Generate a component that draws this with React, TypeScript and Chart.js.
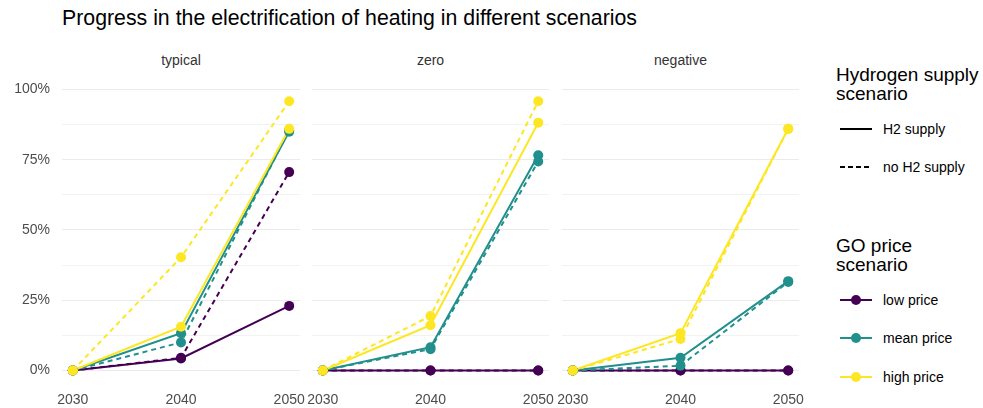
import React, { useEffect, useRef } from "react";
import { Chart, registerables } from "chart.js";

Chart.register(...registerables);

// ---------- data ----------
const years = [2030, 2040, 2050];
const facets = ["typical", "zero", "negative"];
const priceLevels = ["low price", "mean price", "high price"];
const priceColors = ["#440154", "#21908C", "#FDE725"];
const supplyLevels = ["H2 supply", "no H2 supply"];
const yTicks = [0, 12.5, 25, 37.5, 50, 62.5, 75, 87.5, 100];
const yLabelTicks = [0, 25, 50, 75, 100];

// typical
const typicalLowH2 = [0, 4.3, 23.0];
const typicalLowNoH2 = [0, 4.5, 70.6];
const typicalMeanH2 = [0, 13.3, 85.0];
const typicalMeanNoH2 = [0, 10.0, 85.5];
const typicalHighH2 = [0, 15.6, 86.0];
const typicalHighNoH2 = [0, 40.3, 95.8];
// zero
const zeroLowH2 = [0, 0, 0];
const zeroLowNoH2 = [0, 0, 0];
const zeroMeanH2 = [0, 8.3, 76.6];
const zeroMeanNoH2 = [0, 7.6, 74.4];
const zeroHighH2 = [0, 16.1, 88.2];
const zeroHighNoH2 = [0, 19.4, 95.8];
// negative
const negativeLowH2 = [0, 0, 0];
const negativeLowNoH2 = [0, 0, 0];
const negativeMeanH2 = [0, 4.5, 31.8];
const negativeMeanNoH2 = [0, 1.7, 31.5];
const negativeHighH2 = [0, 13.3, 86.0];
const negativeHighNoH2 = [0, 11.2, 86.0];

// [price][supply]
const facetSeries: number[][][] = [
  [
    [typicalLowH2, typicalLowNoH2],
    [typicalMeanH2, typicalMeanNoH2],
    [typicalHighH2, typicalHighNoH2],
  ],
  [
    [zeroLowH2, zeroLowNoH2],
    [zeroMeanH2, zeroMeanNoH2],
    [zeroHighH2, zeroHighNoH2],
  ],
  [
    [negativeLowH2, negativeLowNoH2],
    [negativeMeanH2, negativeMeanNoH2],
    [negativeHighH2, negativeHighNoH2],
  ],
];

const FONT = "'Liberation Sans', Arial, sans-serif";
const AXIS_COLOR = "#4D4D4D";
const DASH = [5, 4];

// ---------- layout ----------
const CANVAS_TOP = 70;
const CANVAS_H = 338;
const PLOT_TOP_PAD = 17.25;
const X_AXIS_H = 24;
const panelLeft = [62, 312, 562];
const panelRight = [300, 549, 799];
const SIDE_PAD = 16;

function Panel({ index }: { index: number }) {
  const ref = useRef<HTMLCanvasElement | null>(null);
  const showY = index === 0;
  const yWidth = showY ? panelLeft[0] : 0;
  const canvasLeft = showY ? 0 : panelLeft[index] - SIDE_PAD;
  const leftPad = showY ? 0 : SIDE_PAD;
  const canvasW = panelRight[index] - canvasLeft + SIDE_PAD;

  useEffect(() => {
    if (!ref.current) return;
    const series = facetSeries[index];
    const datasets: any[] = [];
    priceLevels.forEach((_, p) => {
      supplyLevels.forEach((__, s) => {
        const idx = p * 2 + s;
        const data = series[p][s].map((v, i) => ({ x: years[i], y: v }));
        datasets.push({
          label: priceLevels[p] + " / " + supplyLevels[s] + " line",
          data,
          borderColor: priceColors[p],
          backgroundColor: priceColors[p],
          borderWidth: 2,
          borderDash: s === 1 ? DASH : [],
          pointRadius: 0,
          showLine: true,
          fill: false,
          order: 50 - idx,
        });
      });
    });
    priceLevels.forEach((_, p) => {
      supplyLevels.forEach((__, s) => {
        const idx = p * 2 + s;
        const data = series[p][s].map((v, i) => ({ x: years[i], y: v }));
        datasets.push({
          label: priceLevels[p] + " / " + supplyLevels[s] + " points",
          data,
          borderColor: priceColors[p],
          backgroundColor: priceColors[p],
          borderWidth: 0,
          pointRadius: 5,
          pointBorderWidth: 0,
          showLine: false,
          order: 20 - idx,
        });
      });
    });

    const chart = new Chart(ref.current, {
      type: "scatter",
      data: { datasets },
      options: {
        responsive: false,
        animation: false,
        events: [],
        layout: {
          padding: { left: leftPad, right: SIDE_PAD, top: PLOT_TOP_PAD, bottom: 0 },
        },
        plugins: {
          legend: { display: false },
          tooltip: { enabled: false },
          title: { display: false },
        },
        scales: {
          x: {
            type: "linear",
            min: 2029,
            max: 2051,
            grid: { display: false, drawTicks: false },
            border: { display: false },
            afterBuildTicks: (scale: any) => {
              scale.ticks = years.map((v) => ({ value: v }));
            },
            afterFit: (scale: any) => {
              scale.height = X_AXIS_H;
            },
            ticks: {
              padding: 8,
              color: AXIS_COLOR,
              font: { family: FONT, size: 14 },
              maxRotation: 0,
              autoSkip: false,
              callback: (v: any) => String(v),
            },
          },
          y: {
            type: "linear",
            min: -4.8,
            max: 100.8,
            border: { display: false },
            grid: {
              drawTicks: false,
              color: (ctx: any) =>
                ctx.tick && yLabelTicks.includes(ctx.tick.value) ? "#EBEBEB" : "#F0F0F0",
              lineWidth: (ctx: any) =>
                ctx.tick && yLabelTicks.includes(ctx.tick.value) ? 1.1 : 0.9,
            },
            afterBuildTicks: (scale: any) => {
              scale.ticks = yTicks.map((v) => ({ value: v }));
            },
            afterFit: (scale: any) => {
              scale.width = yWidth;
              scale.paddingTop = 0;
              scale.paddingBottom = 0;
            },
            ticks: {
              display: showY,
              padding: 12,
              color: AXIS_COLOR,
              font: { family: FONT, size: 14 },
              autoSkip: false,
              callback: (v: any) => (yLabelTicks.includes(v) ? v + "%" : ""),
            },
          },
        },
      },
    } as any);
    return () => chart.destroy();
  }, [index]);

  return (
    <canvas
      ref={ref}
      width={canvasW}
      height={CANVAS_H}
      style={{
        position: "absolute",
        left: canvasLeft,
        top: CANVAS_TOP,
        width: canvasW,
        height: CANVAS_H,
      }}
    />
  );
}

const txt = (extra: React.CSSProperties): React.CSSProperties => ({
  position: "absolute",
  fontFamily: FONT,
  whiteSpace: "nowrap",
  margin: 0,
  ...extra,
});

function LineKey({ top, dashed }: { top: number; dashed: boolean }) {
  return (
    <div
      style={{
        position: "absolute",
        left: 840,
        top: top - 1,
        width: 32,
        height: 2,
        background: dashed
          ? "repeating-linear-gradient(to right, #000 0 5px, transparent 5px 8px)"
          : "#000",
      }}
    />
  );
}

function PointKey({ top, color }: { top: number; color: string }) {
  return (
    <>
      <div
        style={{
          position: "absolute",
          left: 840,
          top: top - 1,
          width: 32,
          height: 2,
          background: color,
        }}
      />
      <div
        style={{
          position: "absolute",
          left: 856 - 5,
          top: top - 5,
          width: 10,
          height: 10,
          borderRadius: 5,
          background: color,
        }}
      />
    </>
  );
}

export default function App() {
  const stripCenters = facets.map((_, i) => (panelLeft[i] + panelRight[i]) / 2);
  const supplyTops = [129, 167];
  const priceTops = [300, 338, 377];
  return (
    <div
      style={{
        position: "absolute",
        left: 0,
        top: 0,
        width: 983,
        height: 408,
        background: "#fff",
        overflow: "hidden",
      }}
    >
      <div style={txt({ left: 62, top: 5, fontSize: 21.3, lineHeight: "26px", color: "#000" })}>
        Progress in the electrification of heating in different scenarios
      </div>
      {facets.map((f, i) => (
        <div
          key={f}
          style={txt({
            left: stripCenters[i] - 60,
            width: 120,
            textAlign: "center",
            top: 52,
            fontSize: 14,
            lineHeight: "16px",
            color: "#333333",
          })}
        >
          {f}
        </div>
      ))}
      {facets.map((_, i) => (
        <Panel key={i} index={i} />
      ))}

      <div style={txt({ left: 836, top: 65, fontSize: 19, lineHeight: "19px", color: "#000" })}>
        Hydrogen supply
        <br />
        scenario
      </div>
      {supplyLevels.map((s, i) => (
        <React.Fragment key={s}>
          <LineKey top={supplyTops[i]} dashed={i === 1} />
          <div
            style={txt({
              left: 883,
              top: supplyTops[i] - 9,
              fontSize: 14,
              lineHeight: "18px",
              color: "#000",
            })}
          >
            {s}
          </div>
        </React.Fragment>
      ))}

      <div style={txt({ left: 836, top: 236, fontSize: 19, lineHeight: "19px", color: "#000" })}>
        GO price
        <br />
        scenario
      </div>
      {priceLevels.map((p, i) => (
        <React.Fragment key={p}>
          <PointKey top={priceTops[i]} color={priceColors[i]} />
          <div
            style={txt({
              left: 883,
              top: priceTops[i] - 9,
              fontSize: 14,
              lineHeight: "18px",
              color: "#000",
            })}
          >
            {p}
          </div>
        </React.Fragment>
      ))}
    </div>
  );
}
